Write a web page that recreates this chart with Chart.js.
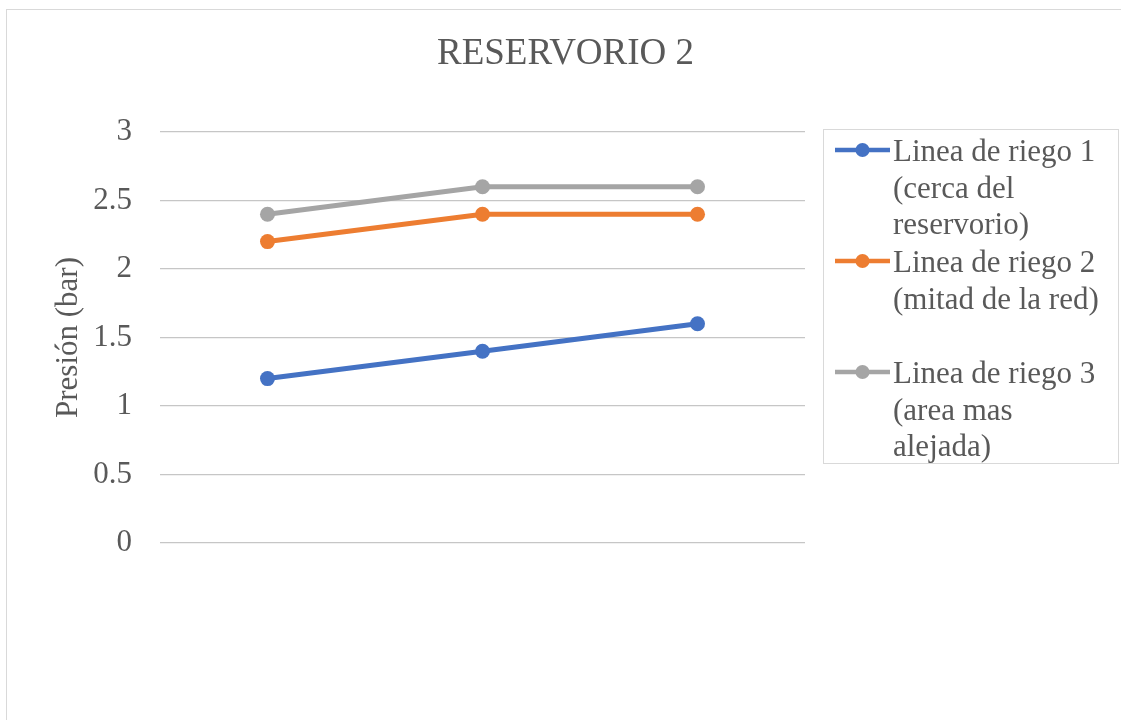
<!DOCTYPE html>
<html>
<head>
<meta charset="utf-8">
<title>RESERVORIO 2</title>
<script src="https://cdn.jsdelivr.net/npm/chart.js@4.4.1/dist/chart.umd.min.js"></script>
<style>
    html, body { margin: 0; padding: 0; background: #fff; overflow: hidden; }
    .frame {
        position: absolute;
        left: 6px; top: 9px;
        width: 1200px; height: 800px;
        border: 1.5px solid #d9d9d9;
    }
    .wrap { position: absolute; left: 0; top: 0; width: 1121px; height: 720px; }
</style>
</head>
<body>
<div class="frame"></div>
<div class="wrap"><canvas id="resChart"></canvas></div>
<script>
const chartTitle = 'RESERVORIO 2';
const axisTitle = 'Presión (bar)';

// three measuring points along each line, no category names shown
const categories = ['', '', ''];

const linea1 = [1.2, 1.4, 1.6];
const linea2 = [2.2, 2.4, 2.4];
const linea3 = [2.4, 2.6, 2.6];

const seriesNames = [
    ['Linea de riego 1', '(cerca del', 'reservorio)'],
    ['Linea de riego 2', '(mitad de la red)'],
    ['Linea de riego 3', '(area mas', 'alejada)']
];
const seriesColors = ['#4472C4', '#ED7D31', '#A5A5A5'];

const yMin = 0;
const yMax = 3;
const yStep = 0.5;

const SERIF = "'Liberation Serif', 'Times New Roman', serif";
const TEXT = '#595959';

// title and the boxed legend on the right
const decor = {
    id: 'decor',
    afterDraw(chart) {
        const ctx = chart.ctx;
        ctx.save();

        ctx.fillStyle = TEXT;
        ctx.font = '37px ' + SERIF;
        ctx.textAlign = 'center';
        ctx.textBaseline = 'alphabetic';
        ctx.fillText(chartTitle, 565.5, 64);

        ctx.strokeStyle = '#d9d9d9';
        ctx.lineWidth = 1;
        ctx.strokeRect(823.5, 129.5, 295, 334);

        ctx.font = '31px ' + SERIF;
        ctx.textAlign = 'left';
        chart.data.datasets.forEach((ds, i) => {
            const base = 161 + i * 111;
            const my = base - 11;
            ctx.strokeStyle = ds.borderColor;
            ctx.lineWidth = 4.5;
            ctx.beginPath();
            ctx.moveTo(835, my);
            ctx.lineTo(890, my);
            ctx.stroke();
            ctx.fillStyle = ds.borderColor;
            ctx.beginPath();
            ctx.arc(862.5, my, 7, 0, Math.PI * 2);
            ctx.fill();

            ctx.fillStyle = TEXT;
            seriesNames[i].forEach((line, j) => {
                ctx.fillText(line, 893, base + j * 36.5);
            });
        });
        ctx.restore();
    }
};

function lineSet(idx, values) {
    return {
        label: seriesNames[idx].join(' '),
        data: values,
        borderColor: seriesColors[idx],
        backgroundColor: seriesColors[idx],
        borderWidth: 5,
        pointRadius: 7.5,
        pointHoverRadius: 7.5,
        pointBorderWidth: 0,
        pointBackgroundColor: seriesColors[idx],
        tension: 0,
        fill: false
    };
}

new Chart(document.getElementById('resChart'), {
    type: 'line',
    data: {
        labels: categories,
        datasets: [
            lineSet(0, linea1),
            lineSet(1, linea2),
            lineSet(2, linea3)
        ]
    },
    options: {
        responsive: true,
        maintainAspectRatio: false,
        animation: false,
        layout: {
            padding: { top: 132, right: 316, bottom: 177, left: 0 }
        },
        plugins: {
            legend: { display: false },
            title: { display: false },
            tooltip: { enabled: false }
        },
        scales: {
            x: {
                display: false,
                offset: true
            },
            y: {
                min: yMin,
                max: yMax,
                ticks: {
                    stepSize: yStep,
                    color: TEXT,
                    padding: 28,
                    font: { family: SERIF, size: 31 },
                    callback: (v) => String(Math.round(v * 10) / 10)
                },
                grid: {
                    color: '#c6c6c6',
                    lineWidth: 1.3,
                    drawTicks: false
                },
                border: { display: false },
                title: {
                    display: true,
                    text: axisTitle,
                    color: TEXT,
                    padding: { top: 50, bottom: 0 },
                    font: { family: SERIF, size: 31 }
                },
                afterFit(scale) {
                    scale.width = 160;
                }
            }
        }
    },
    plugins: [decor]
});
</script>
</body>
</html>
